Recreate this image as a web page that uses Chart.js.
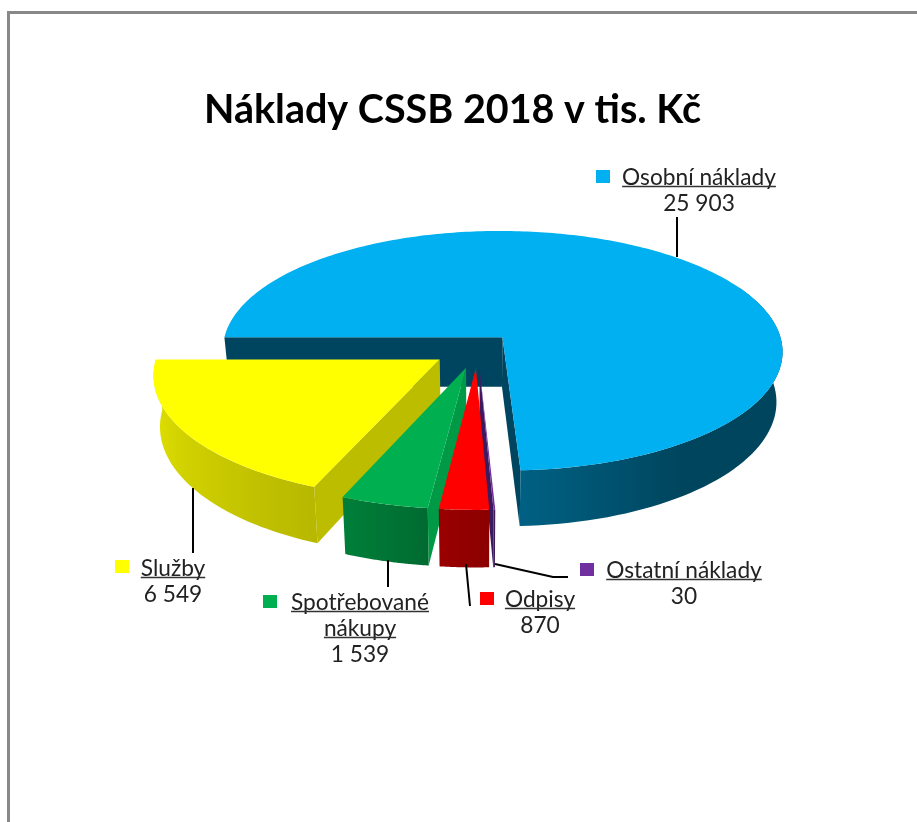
<!DOCTYPE html>
<html>
<head>
<meta charset="utf-8">
<style>
  html, body { margin: 0; height: 100%; background: #fff; overflow: hidden; }
  #frame { position: absolute; left: 7px; top: 11px; right: 0; bottom: 0; border-left: 3px solid #888; border-top: 3px solid #888; }
  canvas { position: absolute; left: 0; top: 0; }
</style>
</head>
<body>
<div id="frame"></div>
<canvas id="costs" width="917" height="822"></canvas>
<script src="https://cdn.jsdelivr.net/npm/chart.js@4/dist/chart.umd.min.js"></script>
<script>
const categories = ['Osobní náklady', 'Ostatní náklady', 'Odpisy', 'Spotřebované nákupy', 'Služby'];
const values = [25903, 30, 870, 1539, 6549];
const valueLabels = ['25 903', '30', '870', '1 539', '6 549'];
const colors = ['#00B0F0', '#7030A0', '#FF0000', '#00B050', '#FFFF00'];
const wallColors = ['#00455F', '#3B1A5E', '#8F0000', '#009A47', '#BDBD00'];
const explode = [0.13, 0.16, 0.16, 0.16, 0.16];   // slice pulled out, share of radius
const drawOrder = [0, 4, 3, 1, 2];                // back to front

// label layout, same order as categories
const labelLines = [['Osobní náklady'], ['Ostatní náklady'], ['Odpisy'], ['Spotřebované', 'nákupy'], ['Služby']];
const labelCenter = [[699, 178], [684, 571], [540, 600], [360, 603], [173, 569]];
const labelSquare = [[596, 170], [580, 563], [480, 592], [263, 595], [115, 560]];
const leaders = [
  [[677, 217], [677, 257]],
  [[495, 564], [553, 577], [568, 577]],
  [[466, 564], [470, 606]],
  [[388, 560], [388, 587]],
  [[193, 488], [193, 553]]
];

const cx = 477.5, cy = 348.6;   // pie centre on the page
const tilt = 0.43, persp = 0.113, depth = 50, shrink = 0.02;

function project(arc, u, v) {
  const f = 1 / (1 - persp * v);
  return { x: cx + arc.outerRadius * u * f, y: cy + arc.outerRadius * tilt * v * f, f: f };
}
function lower(p) {
  return { x: cx + (p.x - cx) * (1 - shrink), y: p.y + depth * p.f };
}
function shade(hex, a) {
  const deg = a * 180 / Math.PI;
  let s = 0.39;
  if (deg > 112) s = 0.72 + (deg - 112) * 0.2 / 68;
  else if (deg > 90) s = 0.56 + (deg - 90) * 0.16 / 22;
  else if (deg > 55) s = 0.39 + (deg - 55) * 0.17 / 35;
  const n = parseInt(hex.slice(1), 16);
  return 'rgb(' + Math.round((n >> 16) * s) + ',' + Math.round(((n >> 8) & 255) * s) + ',' + Math.round((n & 255) * s) + ')';
}

function drawSlice(ctx, arc, i) {
  const mid = (arc.startAngle + arc.endAngle) / 2;
  const u0 = explode[i] * Math.cos(mid), v0 = explode[i] * Math.sin(mid);
  const apex = project(arc, u0, v0);
  const rim = a => project(arc, u0 + Math.cos(a), v0 + Math.sin(a));
  const base = arc.options.backgroundColor;

  // flat walls of the cut
  const flat = a => {
    const p = rim(a);
    const q = lower(p), r = lower(apex);
    ctx.beginPath();
    ctx.moveTo(apex.x, apex.y);
    ctx.lineTo(p.x, p.y);
    ctx.lineTo(q.x, q.y);
    ctx.lineTo(r.x, r.y);
    ctx.closePath();
    ctx.fillStyle = wallColors[i];
    ctx.fill();
  };
  if (Math.cos(arc.startAngle) < 0) flat(arc.startAngle);
  if (Math.cos(arc.endAngle) > 0) flat(arc.endAngle);

  // outer wall, only the part facing the viewer
  const from = Math.max(arc.startAngle, -0.45), to = Math.min(arc.endAngle, Math.PI);
  if (to > from) {
    const steps = 60, top = [], bottom = [];
    for (let k = 0; k <= steps; k++) {
      const p = rim(from + (to - from) * k / steps);
      top.push(p);
      bottom.push(lower(p));
    }
    const xs = top.concat(bottom).map(p => p.x);
    const minX = Math.min(...xs), maxX = Math.max(...xs);
    const grad = ctx.createLinearGradient(minX, 0, maxX, 0);
    const stops = 16, first = Math.max(from, 0);
    let last = 0;
    for (let k = 0; k <= stops; k++) {
      // rim runs right to left as the angle grows
      const a = to - (to - first) * k / stops;
      last = Math.max(last, Math.min(1, (rim(a).x - minX) / (maxX - minX)));
      grad.addColorStop(last, shade(base, a));
    }
    ctx.beginPath();
    top.forEach((p, k) => k ? ctx.lineTo(p.x, p.y) : ctx.moveTo(p.x, p.y));
    bottom.reverse().forEach(p => ctx.lineTo(p.x, p.y));
    ctx.closePath();
    ctx.fillStyle = grad;
    ctx.fill();
  }

  // top face
  const n = Math.max(4, Math.ceil((arc.endAngle - arc.startAngle) * 60));
  ctx.beginPath();
  ctx.moveTo(apex.x, apex.y);
  for (let k = 0; k <= n; k++) {
    const p = rim(arc.startAngle + (arc.endAngle - arc.startAngle) * k / n);
    ctx.lineTo(p.x, p.y);
  }
  ctx.closePath();
  ctx.fillStyle = base;
  ctx.fill();
}

const pie3d = {
  id: 'pie3d',
  beforeDatasetDraw(chart) {
    const arcs = chart.getDatasetMeta(0).data;
    drawOrder.forEach(i => drawSlice(chart.ctx, arcs[i], i));
    return false;
  },
  afterDraw(chart) {
    const ctx = chart.ctx;
    ctx.save();
    ctx.strokeStyle = '#000';
    ctx.lineWidth = 2;
    leaders.forEach(line => {
      ctx.beginPath();
      line.forEach((p, k) => k ? ctx.lineTo(p[0], p[1]) : ctx.moveTo(p[0], p[1]));
      ctx.stroke();
    });
    ctx.font = '22.7px Lato';
    ctx.textAlign = 'center';
    ctx.textBaseline = 'middle';
    categories.forEach((name, i) => {
      ctx.fillStyle = colors[i];
      ctx.fillRect(labelSquare[i][0], labelSquare[i][1], 14, 13);
      ctx.fillStyle = '#222';
      ctx.strokeStyle = '#333';
      ctx.lineWidth = 1.5;
      let y = labelCenter[i][1];
      const x = labelCenter[i][0];
      labelLines[i].forEach(line => {
        ctx.fillText(line, x, y);
        const w = ctx.measureText(line).width;
        ctx.beginPath();
        ctx.moveTo(x - w / 2, y + 8.5);
        ctx.lineTo(x + w / 2, y + 8.5);
        ctx.stroke();
        y += 26;
      });
      ctx.fillText(valueLabels[i], x, y);
    });
    ctx.restore();
  }
};

new Chart(document.getElementById('costs'), {
  type: 'pie',
  data: {
    labels: categories,
    datasets: [{ data: values, backgroundColor: colors, borderWidth: 0 }]
  },
  options: {
    responsive: false,
    animation: false,
    radius: 281,
    rotation: -90,
    layout: { padding: { right: 12 } },
    plugins: {
      legend: { display: false },
      tooltip: { enabled: false },
      title: {
        display: true,
        text: 'Náklady CSSB 2018 v tis. Kč',
        color: '#000',
        font: { family: 'Lato', size: 39.5, weight: 'bold' },
        padding: { top: 87, bottom: 10 }
      }
    }
  },
  plugins: [pie3d]
});
</script>
</body>
</html>
